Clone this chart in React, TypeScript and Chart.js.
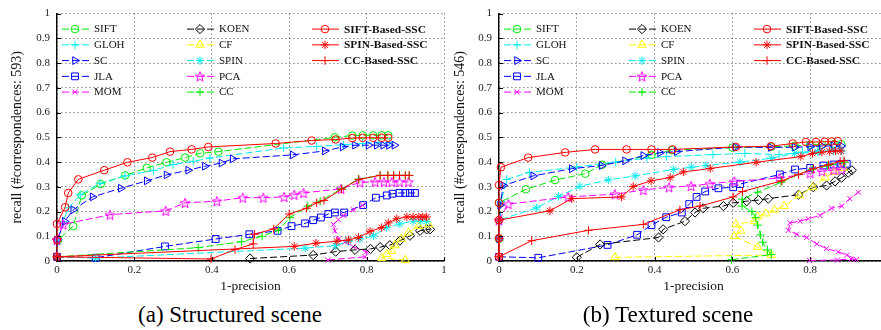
import React, { useEffect, useRef } from 'react';
import { Chart, registerables } from 'chart.js';
import { drawPoint } from 'chart.js/helpers';

Chart.register(...registerables);

// ---------- tick values ----------
const xTicks = [0, 0.2, 0.4, 0.6, 0.8, 1];
const yTicks = [0, 0.1, 0.2, 0.3, 0.4, 0.5, 0.6, 0.7, 0.8, 0.9, 1];

// ---------- series names ----------
const seriesNames = ['SIFT', 'GLOH', 'SC', 'JLA', 'MOM', 'KOEN', 'CF', 'SPIN', 'PCA', 'CC', 'SIFT-Based-SSC', 'SPIN-Based-SSC', 'CC-Based-SSC'];

// ---------- (a) Structured scene: [1-precision, recall] ----------
const aSIFT = [[0,0.017],[0.003,0.085],[0.042,0.141],[0.064,0.265],[0.113,0.311],[0.176,0.346],[0.232,0.376],[0.283,0.399],[0.331,0.418],[0.37,0.435],[0.417,0.442],[0.718,0.5],[0.763,0.507],[0.79,0.508],[0.817,0.508],[0.839,0.508],[0.856,0.508]];
const aGLOH = [[0,0.017],[0.003,0.085],[0.015,0.16],[0.03,0.215],[0.06,0.268],[0.111,0.314],[0.176,0.344],[0.249,0.366],[0.3,0.39],[0.352,0.403],[0.395,0.416],[0.585,0.457],[0.671,0.463],[0.74,0.47],[0.79,0.475],[0.83,0.478],[0.86,0.48]];
const aSC = [[0,0.017],[0,0.085],[0.02,0.16],[0.042,0.207],[0.092,0.259],[0.165,0.294],[0.232,0.324],[0.283,0.348],[0.339,0.367],[0.382,0.383],[0.425,0.396],[0.454,0.413],[0.609,0.429],[0.692,0.445],[0.738,0.461],[0.77,0.468],[0.805,0.468],[0.826,0.468],[0.843,0.468],[0.858,0.468],[0.872,0.468]];
const aJLA = [[0,0.017],[0.1,0.013],[0.279,0.059],[0.41,0.089],[0.497,0.108],[0.57,0.122],[0.606,0.141],[0.641,0.152],[0.662,0.165],[0.682,0.176],[0.701,0.19],[0.718,0.196],[0.742,0.196],[0.791,0.226],[0.824,0.256],[0.852,0.265],[0.867,0.272],[0.885,0.275],[0.9,0.275],[0.912,0.275],[0.925,0.275]];
const aMOM = [[0.7,0.004],[0.796,0.017],[0.8,0.037],[0.765,0.058],[0.744,0.076],[0.727,0.089],[0.718,0.122],[0.714,0.148],[0.727,0.167],[0.74,0.184],[0.766,0.207],[0.79,0.225]];
const aKOEN = [[0.499,0.01],[0.662,0.024],[0.72,0.038],[0.77,0.045],[0.81,0.049],[0.835,0.056],[0.86,0.064],[0.886,0.082],[0.912,0.102],[0.938,0.122],[0.955,0.128],[0.964,0.128]];
const aCF = [[0.9,0.004],[0.839,0.012],[0.852,0.028],[0.865,0.04],[0.873,0.063],[0.89,0.089],[0.908,0.115],[0.934,0.141],[0.96,0.148]];
const aSPIN = [[0,0.017],[0.1,0.012],[0.641,0.052],[0.72,0.062],[0.753,0.08],[0.783,0.089],[0.818,0.102],[0.852,0.135],[0.886,0.15],[0.92,0.161],[0.94,0.161],[0.955,0.161]];
const aPCA = [[0,0.085],[0.016,0.148],[0.137,0.187],[0.281,0.203],[0.331,0.235],[0.413,0.242],[0.48,0.256],[0.533,0.256],[0.587,0.259],[0.613,0.268],[0.637,0.275],[0.734,0.292],[0.783,0.318],[0.822,0.32],[0.845,0.32],[0.865,0.32],[0.885,0.32],[0.908,0.32]];
const aCC = [[0,0.017],[0.365,0.054],[0.477,0.078],[0.53,0.1],[0.572,0.125],[0.602,0.175],[0.648,0.222],[0.68,0.242],[0.735,0.292],[0.779,0.331],[0.835,0.346],[0.855,0.346],[0.87,0.346],[0.885,0.346],[0.9,0.346],[0.91,0.346]];
const aSIFTSSC = [[0,0.017],[0,0.085],[0,0.15],[0.021,0.217],[0.029,0.275],[0.055,0.33],[0.122,0.367],[0.182,0.399],[0.246,0.418],[0.292,0.442],[0.348,0.451],[0.391,0.461],[0.565,0.475],[0.658,0.487],[0.72,0.491],[0.763,0.497],[0.79,0.498],[0.817,0.498],[0.839,0.498],[0.856,0.498]];
const aSPINSSC = [[0,0.017],[0.613,0.059],[0.669,0.072],[0.723,0.08],[0.753,0.085],[0.779,0.095],[0.809,0.12],[0.839,0.135],[0.856,0.154],[0.878,0.171],[0.904,0.178],[0.92,0.178],[0.935,0.178],[0.945,0.178],[0.955,0.178]];
const aCCSSC = [[0,0.017],[0.398,0.008],[0.46,0.046],[0.507,0.069],[0.51,0.108],[0.56,0.13],[0.6,0.19],[0.645,0.213],[0.671,0.235],[0.69,0.245],[0.735,0.29],[0.78,0.33],[0.835,0.346],[0.855,0.346],[0.87,0.346],[0.885,0.346],[0.9,0.346],[0.91,0.346]];

// ---------- (b) Textured scene ----------
const bSIFT = [[0,0.09],[0,0.235],[0.069,0.29],[0.144,0.327],[0.222,0.353],[0.265,0.389],[0.392,0.429],[0.444,0.448],[0.6,0.458],[0.7,0.462],[0.76,0.465],[0.8,0.47],[0.83,0.47],[0.86,0.472],[0.88,0.472]];
const bGLOH = [[0,0.09],[0.005,0.24],[0.02,0.33],[0.078,0.358],[0.2,0.38],[0.3,0.4],[0.38,0.416],[0.431,0.422],[0.55,0.43],[0.632,0.435],[0.72,0.43],[0.78,0.44],[0.82,0.445],[0.86,0.445],[0.88,0.445]];
const bSC = [[0,0.09],[0.003,0.226],[0.011,0.305],[0.088,0.344],[0.187,0.373],[0.264,0.386],[0.324,0.405],[0.371,0.426],[0.414,0.438],[0.457,0.442],[0.609,0.461],[0.699,0.459],[0.76,0.46],[0.8,0.462],[0.83,0.465],[0.86,0.465],[0.88,0.465]];
const bJLA = [[0,0.017],[0.101,0.013],[0.279,0.065],[0.355,0.106],[0.392,0.145],[0.43,0.177],[0.47,0.196],[0.489,0.23],[0.508,0.259],[0.53,0.281],[0.564,0.294],[0.602,0.298],[0.62,0.311],[0.722,0.35],[0.761,0.37],[0.8,0.376],[0.834,0.386],[0.86,0.39],[0.88,0.393],[0.894,0.393]];
const bMOM = [[0.798,0.002],[0.87,0.004],[0.905,0.008],[0.919,0.006],[0.894,0.024],[0.872,0.037],[0.842,0.05],[0.817,0.069],[0.791,0.095],[0.765,0.108],[0.744,0.124],[0.748,0.154],[0.774,0.161],[0.795,0.171],[0.825,0.184],[0.855,0.213],[0.881,0.222],[0.902,0.252],[0.924,0.278]];
const bKOEN = [[0.2,0.015],[0.26,0.067],[0.41,0.095],[0.422,0.128],[0.478,0.161],[0.504,0.196],[0.525,0.213],[0.577,0.222],[0.602,0.235],[0.637,0.242],[0.667,0.246],[0.692,0.252],[0.77,0.268],[0.808,0.298],[0.842,0.305],[0.864,0.322],[0.881,0.337],[0.898,0.357],[0.907,0.367]];
const bCF = [[0.298,0.015],[0.7,0.024],[0.665,0.056],[0.605,0.1],[0.622,0.122],[0.609,0.148],[0.656,0.161],[0.665,0.18],[0.686,0.192],[0.708,0.207],[0.733,0.222],[0.772,0.265],[0.806,0.298],[0.838,0.337],[0.862,0.36],[0.885,0.376]];
const bSPIN = [[0,0.09],[0.003,0.167],[0.097,0.215],[0.153,0.261],[0.208,0.302],[0.281,0.328],[0.35,0.344],[0.448,0.37],[0.494,0.379],[0.532,0.386],[0.62,0.4],[0.7,0.415],[0.76,0.435],[0.82,0.44],[0.86,0.445],[0.88,0.445]];
const bPCA = [[0,0.165],[0.024,0.23],[0.178,0.259],[0.298,0.27],[0.371,0.287],[0.437,0.298],[0.494,0.303],[0.542,0.312],[0.605,0.322],[0.72,0.335],[0.8,0.355],[0.83,0.363],[0.86,0.368],[0.88,0.37]];
const bCC = [[0.598,0.005],[0.7,0.026],[0.69,0.045],[0.678,0.076],[0.672,0.105],[0.665,0.145],[0.66,0.175],[0.65,0.2],[0.625,0.222],[0.625,0.25],[0.665,0.278],[0.725,0.318],[0.77,0.35],[0.805,0.37],[0.845,0.385],[0.888,0.4]];
const bSIFTSSC = [[0,0.017],[0,0.092],[0,0.165],[0,0.235],[0,0.307],[0.005,0.379],[0.075,0.418],[0.17,0.439],[0.247,0.451],[0.328,0.451],[0.392,0.451],[0.446,0.451],[0.609,0.461],[0.699,0.464],[0.755,0.475],[0.789,0.481],[0.815,0.481],[0.837,0.482],[0.855,0.483],[0.871,0.484]];
const bSPINSSC = [[0,0.017],[0,0.092],[0,0.165],[0.131,0.203],[0.187,0.252],[0.315,0.259],[0.345,0.301],[0.391,0.324],[0.44,0.337],[0.474,0.36],[0.543,0.374],[0.661,0.399],[0.776,0.422],[0.806,0.435],[0.83,0.44],[0.85,0.443],[0.865,0.445],[0.879,0.445]];
const bCCSSC = [[0,0.017],[0.084,0.082],[0.23,0.124],[0.371,0.148],[0.465,0.207],[0.517,0.222],[0.602,0.259],[0.626,0.281],[0.727,0.324],[0.77,0.35],[0.808,0.373],[0.847,0.389],[0.877,0.403],[0.887,0.405]];

const seriesA = [aSIFT, aGLOH, aSC, aJLA, aMOM, aKOEN, aCF, aSPIN, aPCA, aCC, aSIFTSSC, aSPINSSC, aCCSSC];
const seriesB = [bSIFT, bGLOH, bSC, bJLA, bMOM, bKOEN, bCF, bSPIN, bPCA, bCC, bSIFTSSC, bSPINSSC, bCCSSC];

// ---------- styles ----------
const GREEN = 'rgb(0,235,0)';
const CYAN = 'rgb(0,238,238)';
const BLUE = 'rgb(0,0,255)';
const MAGENTA = 'rgb(255,0,255)';
const YELLOW = 'rgb(255,255,0)';
const RED = 'rgb(255,0,0)';
const BLACK = 'rgb(0,0,0)';

type Sty = { color: string; dashed: boolean; point: string; rot: number; r: number; bold: boolean; col: number; row: number };
const styles: Sty[] = [
  { color: GREEN, dashed: true, point: 'circle', rot: 0, r: 3.8, bold: false, col: 0, row: 0 },
  { color: CYAN, dashed: true, point: 'cross', rot: 0, r: 4.2, bold: false, col: 0, row: 1 },
  { color: BLUE, dashed: true, point: 'triangle', rot: 90, r: 4.5, bold: false, col: 0, row: 2 },
  { color: BLUE, dashed: true, point: 'rect', rot: 0, r: 4.8, bold: false, col: 0, row: 3 },
  { color: MAGENTA, dashed: true, point: 'crossRot', rot: 0, r: 3.5, bold: false, col: 0, row: 4 },
  { color: BLACK, dashed: true, point: 'rectRot', rot: 0, r: 4.6, bold: false, col: 1, row: 0 },
  { color: YELLOW, dashed: true, point: 'triangle', rot: 0, r: 4.8, bold: false, col: 1, row: 1 },
  { color: CYAN, dashed: true, point: 'star', rot: 0, r: 4.2, bold: false, col: 1, row: 2 },
  { color: MAGENTA, dashed: true, point: 'pentagram', rot: 0, r: 5, bold: false, col: 1, row: 3 },
  { color: GREEN, dashed: true, point: 'cross', rot: 0, r: 4.2, bold: false, col: 1, row: 4 },
  { color: RED, dashed: false, point: 'circle', rot: 0, r: 3.8, bold: true, col: 2, row: 0 },
  { color: RED, dashed: false, point: 'star', rot: 0, r: 4.2, bold: true, col: 2, row: 1 },
  { color: RED, dashed: false, point: 'cross', rot: 0, r: 4.2, bold: true, col: 2, row: 2 },
];

const SERIF = '"Liberation Serif", "DejaVu Serif", serif';
const DASH = [7, 3];

function makePentagram(color: string): HTMLCanvasElement {
  const s = 12;
  const c = document.createElement('canvas');
  c.width = s;
  c.height = s;
  const g = c.getContext('2d')!;
  g.strokeStyle = color;
  g.lineWidth = 1;
  g.beginPath();
  for (let i = 0; i < 10; i++) {
    const rr = i % 2 === 0 ? 5.2 : 2.2;
    const a = -Math.PI / 2 + (i * Math.PI) / 5;
    const x = s / 2 + rr * Math.cos(a);
    const y = s / 2 + 0.6 + rr * Math.sin(a);
    if (i === 0) g.moveTo(x, y);
    else g.lineTo(x, y);
  }
  g.closePath();
  g.stroke();
  return c;
}

function pointStyleOf(st: Sty, star: HTMLCanvasElement): any {
  return st.point === 'pentagram' ? star : st.point;
}

function makeConfig(series: number[][][], yTitle: string, padLeft: number, yWidth: number, padRight: number, star: HTMLCanvasElement) {
  const datasets = series.map((pts, i) => {
    const st = styles[i];
    return {
      label: seriesNames[i],
      data: pts.map((p) => ({ x: p[0], y: p[1] })),
      borderColor: st.color,
      backgroundColor: 'rgba(0,0,0,0)',
      borderWidth: 1,
      borderDash: st.dashed ? DASH : [],
      pointStyle: pointStyleOf(st, star),
      pointRotation: st.rot,
      pointRadius: st.r,
      pointBorderWidth: 1,
      pointBorderColor: st.color,
      pointBackgroundColor: 'rgba(0,0,0,0)',
      tension: 0,
      clip: false as any,
      order: 20 - i,
    };
  });

  const legendPlugin = {
    id: 'customLegend',
    afterDraw(chart: any) {
      const { ctx, chartArea, scales } = chart;
      ctx.save();
      // inward tick marks
      ctx.strokeStyle = '#000';
      ctx.lineWidth = 1;
      ctx.setLineDash([]);
      ctx.beginPath();
      yTicks.forEach((v) => {
        const y = Math.round(scales.y.getPixelForValue(v)) + 0.5;
        ctx.moveTo(chartArea.left, y);
        ctx.lineTo(chartArea.left + 4, y);
      });
      xTicks.forEach((v) => {
        const x = Math.round(scales.x.getPixelForValue(v)) + 0.5;
        ctx.moveTo(x, chartArea.bottom);
        ctx.lineTo(x, chartArea.bottom - 4);
      });
      ctx.stroke();

      // legend
      styles.forEach((st, i) => {
        const mx = chartArea.left + 18 + 125 * st.col;
        const my = chartArea.top + 15 + 15.75 * st.row;
        ctx.save();
        ctx.strokeStyle = st.color;
        ctx.lineWidth = 1;
        ctx.setLineDash(st.dashed ? DASH : []);
        ctx.beginPath();
        ctx.moveTo(mx - 13, my + 0.5);
        ctx.lineTo(mx + 14, my + 0.5);
        ctx.stroke();
        ctx.setLineDash([]);
        ctx.fillStyle = 'rgba(0,0,0,0)';
        drawPoint(ctx, { pointStyle: pointStyleOf(st, star), rotation: st.rot, radius: st.r, borderWidth: 1 } as any, mx, my + 0.5);
        ctx.restore();
        ctx.fillStyle = '#111';
        ctx.font = (st.bold ? 'bold 11.4px ' : '11px ') + SERIF;
        ctx.textBaseline = 'middle';
        ctx.textAlign = 'left';
        ctx.fillText(seriesNames[i], mx + 19, my + 1);
      });
      ctx.restore();
    },
  };

  return {
    type: 'line' as const,
    data: { datasets },
    plugins: [legendPlugin],
    options: {
      animation: false as const,
      responsive: false,
      events: [],
      layout: { padding: { left: padLeft, right: padRight, top: 6, bottom: 5 } },
      plugins: { legend: { display: false }, tooltip: { enabled: false }, title: { display: false } },
      scales: {
        x: {
          type: 'linear' as const,
          min: 0,
          max: 1,
          afterBuildTicks: (s: any) => {
            s.ticks = xTicks.map((v) => ({ value: v }));
          },
          afterFit: (s: any) => {
            s.height = 34;
          },
          ticks: {
            callback: (v: any) => String(v),
            font: { family: SERIF, size: 11 },
            color: '#222',
            padding: 3,
            maxRotation: 0,
          },
          grid: { color: '#222', lineWidth: 0.8, drawTicks: false },
          border: { display: true, color: '#000', width: 1.4, dash: [1, 3] },
          title: { display: true, text: '1-precision', font: { family: SERIF, size: 13.5 }, color: '#111', padding: 0 },
        },
        y: {
          type: 'linear' as const,
          min: 0,
          max: 1,
          afterBuildTicks: (s: any) => {
            s.ticks = yTicks.map((v) => ({ value: v }));
          },
          afterFit: (s: any) => {
            s.width = yWidth;
          },
          ticks: {
            callback: (v: any) => String(v),
            font: { family: SERIF, size: 11 },
            color: '#222',
            padding: 7,
          },
          grid: { color: '#222', lineWidth: 0.8, drawTicks: false },
          border: { display: true, color: '#000', width: 1.4, dash: [1, 3] },
          title: { display: true, text: yTitle, font: { family: SERIF, size: 14 }, color: '#111', padding: 0 },
        },
      },
    },
  };
}

function Plot(props: { series: number[][][]; yTitle: string; left: number; width: number; padLeft: number; yWidth: number; padRight: number }) {
  const ref = useRef<HTMLCanvasElement | null>(null);
  useEffect(() => {
    if (!ref.current) return;
    const star = makePentagram(MAGENTA);
    const chart = new Chart(ref.current, makeConfig(props.series, props.yTitle, props.padLeft, props.yWidth, props.padRight, star) as any);
    return () => chart.destroy();
  }, []);
  return (
    <canvas
      ref={ref}
      width={props.width}
      height={300}
      style={{ position: 'absolute', left: props.left, top: 0, width: props.width, height: 300 }}
    />
  );
}

export default function App() {
  return (
    <div style={{ position: 'absolute', left: 0, top: 0, width: 881, height: 330, overflow: 'hidden', background: '#fff' }}>
      <Plot series={seriesA} yTitle="recall (#correspondences: 593)" left={0} width={460} padLeft={9} yWidth={48} padRight={16} />
      <Plot series={seriesB} yTitle="recall (#correspondences: 546)" left={446} width={458} padLeft={6} yWidth={47} padRight={16} />
      <div style={{ position: 'absolute', left: 130, width: 200, top: 302, textAlign: 'center', font: '23px ' + SERIF, color: '#000', whiteSpace: 'nowrap' }}>
        (a) Structured scene
      </div>
      <div style={{ position: 'absolute', left: 568, width: 200, top: 302, textAlign: 'center', font: '23px ' + SERIF, color: '#000', whiteSpace: 'nowrap' }}>
        (b) Textured scene
      </div>
    </div>
  );
}
